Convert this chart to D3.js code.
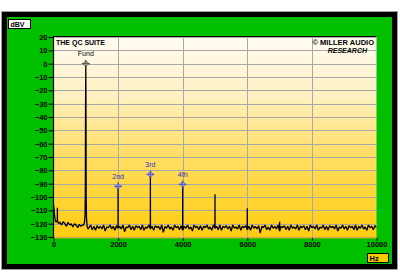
<!DOCTYPE html>
<html>
<head>
<meta charset="utf-8">
<script src="https://cdn.jsdelivr.net/npm/d3@7"></script>
<style>
  body { margin: 0; background: #ffffff; }
  svg { display: block; }
  text { font-family: "Liberation Sans", Arial, sans-serif; }
</style>
</head>
<body>
<svg id="chart" width="400" height="272"></svg>
<script>
//Data

//low end of spectrum, 0-180 Hz: [Hz, dBV]
var lowEnd = [[0,-106],[15,-109],[30,-113],[45,-116],[60,-118],[80,-119],[100,-118],
  [117,-118],[120,-108],[123,-118],[140,-119],[160,-120],[180,-119]];

//floor 200-900 Hz, 50 Hz steps
var floorLow = [-119,-121,-118.5,-120,-122,-119,-121,-120,-122.5,-120,-121,-123,-120.5,-122,-121];

//skirt around the fundamental
var fundZone = [[930,-121],[960,-119],[975,-114],[985,-100],[992,-35],[1000,0],
  [1006,-38],[1012,-100],[1022,-116],[1040,-122],[1070,-124]];

//floor 1100-10000 Hz, 50 Hz steps
var floorHigh = [
  -123,-121,-124.5,-122,-125,-121.5,-123.5,-122,-124,-121,-125.5,-122.5,-123,-121,-124,-122,-125,-121.5,-123.5,-122,
  -124,-121,-126,-122.5,-123,-121,-124.5,-122,-125,-121.5,-123,-122,-124.5,-121,-125,-122.5,-123.5,-121,-124,-122,
  -125,-121.5,-123,-122,-124.5,-121,-126.5,-122,-123.5,-121,-124,-122.5,-125,-121,-123,-122,-124.5,-121.5,-125,-122,
  -123.5,-121,-124,-122.5,-125.5,-121,-123,-122,-124.5,-121.5,-125,-122,-123,-121,-124,-122.5,-125,-121,-123.5,-122,
  -124.5,-121,-125,-122,-123,-121.5,-124,-122,-125.5,-121,-123.5,-122.5,-124,-121,-125,-122,-123,-121.5,-124.5,-122,
  -125,-121,-123.5,-122,-124,-121.5,-127,-122,-123,-121,-124.5,-122.5,-125,-121,-123.5,-122,-124,-121,-125.5,-122,
  -123,-121.5,-124.5,-122,-125,-121,-123.5,-122.5,-124,-121,-125,-122,-123,-121.5,-124.5,-122,-125.5,-121,-123,-122,
  -124,-121,-125,-122.5,-123.5,-121,-124.5,-122,-125,-121.5,-123,-122,-124,-121,-125.5,-122.5,-123.5,-121,-124,-122,
  -125,-121.5,-123,-122,-124.5,-121,-125,-122,-123.5,-121,-124,-122.5,-125,-121,-123,-122,-124.5,-121.5,-123];

//harmonic spikes: [Hz, dBV]
var spikes = [[2000,-92],[3000,-83],[4000,-90.5],[5000,-98],[6000,-108.5],[7000,-118.5]];

//markers
var markerLabels = ["Fund","2nd","3rd","4th"];
var markerFreqs = [1000,2000,3000,4000];
var markerLevels = [0,-92,-83,-90.5];

//axis ticks
var xTicks = [0,2000,4000,6000,8000,10000];
var yTicks = [20,10,0,-10,-20,-30,-40,-50,-60,-70,-80,-90,-100,-110,-120,-130];

//Layout
var plotLeft = 53.5, plotRight = 376.5, plotTop = 37, plotBottom = 237;

var svg = d3.select("#chart");

var x = d3.scaleLinear().domain([0,10000]).range([plotLeft, plotRight]);
var y = d3.scaleLinear().domain([-130,20]).range([plotBottom, plotTop]);

//build spectrum series; spikes sit on the floor value at their own bin
var spectrum = [];
lowEnd.forEach(function(p){ spectrum.push(p); });
floorLow.forEach(function(v,i){ spectrum.push([200 + i*50, v]); });
fundZone.forEach(function(p){ spectrum.push(p); });
var spikeMap = new Map(spikes);
floorHigh.forEach(function(v,i){
  var f = 1100 + i*50;
  if (spikeMap.has(f)){
    spectrum.push([f-2, v]);
    spectrum.push([f, spikeMap.get(f)]);
    spectrum.push([f+2, v]);
  } else {
    spectrum.push([f, v]);
  }
});
spectrum.sort(function(a,b){ return a[0]-b[0]; });

//window frame
svg.append("rect").attr("x",1.5).attr("y",11.5).attr("width",396).attr("height",258)
  .attr("fill","#000").attr("stroke","#a0a0a0");
svg.append("rect").attr("x",7).attr("y",17).attr("width",385).attr("height",247)
  .attr("fill","#00c000");

//gradient for plot background
var defs = svg.append("defs");
var grad = defs.append("linearGradient").attr("id","bg").attr("x1",0).attr("y1",0).attr("x2",0).attr("y2",1);
[[0,"#fffcf4"],[0.3,"#fff0c0"],[0.55,"#ffe070"],[0.8,"#ffd535"],[1,"#ffcc10"]].forEach(function(s){
  grad.append("stop").attr("offset",s[0]).attr("stop-color",s[1]);
});
defs.append("clipPath").attr("id","clip").append("rect")
  .attr("x",plotLeft).attr("y",36).attr("width",plotRight-plotLeft).attr("height",plotBottom-36+1);

svg.append("rect").attr("x",plotLeft).attr("y",36).attr("width",plotRight-plotLeft).attr("height",plotBottom-36+1)
  .attr("fill","url(#bg)");

//grid
var grid = svg.append("g").attr("stroke","#a8a8a8").attr("stroke-width",1);
grid.selectAll(".hg").data(yTicks).enter().append("line")
  .attr("x1",plotLeft).attr("x2",plotRight)
  .attr("y1",function(d){ return Math.round(y(d))+0.5; })
  .attr("y2",function(d){ return Math.round(y(d))+0.5; });
grid.selectAll(".vg").data(xTicks.slice(1,5)).enter().append("line")
  .attr("y1",36).attr("y2",plotBottom+1)
  .attr("x1",function(d){ return Math.round(x(d))+0.5; })
  .attr("x2",function(d){ return Math.round(x(d))+0.5; });

//plot border: black left/top, dark yellow bottom
svg.append("line").attr("x1",plotRight).attr("x2",plotLeft).attr("y1",36.5).attr("y2",36.5).attr("stroke","#000");
svg.append("line").attr("x1",plotLeft).attr("x2",plotLeft).attr("y1",36).attr("y2",plotBottom+1).attr("stroke","#000").attr("stroke-width",1.2);
svg.append("line").attr("x1",plotLeft).attr("x2",plotRight).attr("y1",plotBottom+1).attr("y2",plotBottom+1).attr("stroke","#e0a800");

//axes
var yAxis = d3.axisLeft(y).tickValues(yTicks).tickSize(5).tickPadding(1);
var gy = svg.append("g").attr("transform","translate(" + plotLeft + ",0)").call(yAxis);
gy.select(".domain").remove();
gy.selectAll("text").attr("font-size","7.5px").attr("font-weight","bold").attr("fill","#000");
gy.selectAll("line").attr("stroke","#000");

var xAxis = d3.axisBottom(x).tickValues(xTicks).tickSize(3).tickPadding(1).tickFormat(d3.format("d"));
var gx = svg.append("g").attr("transform","translate(0," + (plotBottom+1) + ")").call(xAxis);
gx.select(".domain").remove();
gx.selectAll("text").attr("font-size","7.5px").attr("font-weight","bold").attr("fill","#000");
gx.selectAll("line").attr("stroke","#000");

//spectrum line
var line = d3.line().x(function(d){ return x(d[0]); }).y(function(d){ return y(d[1]); });
svg.append("path").datum(spectrum).attr("clip-path","url(#clip)")
  .attr("d",line).attr("fill","none").attr("stroke","#000").attr("stroke-width",1.3)
  .attr("stroke-linejoin","bevel");

//markers
var markers = svg.selectAll(".mk").data(markerFreqs).enter().append("g")
  .attr("transform",function(d,i){ return "translate(" + x(d) + "," + y(markerLevels[i]) + ")"; });
markers.append("path").attr("d","M0,-3L3,0L0,3L-3,0Z")
  .attr("fill",function(d,i){ return i==0 ? "#e8e0d0" : "#b8b8f0"; })
  .attr("stroke",function(d,i){ return i==0 ? "#404040" : "#5050c8"; }).attr("stroke-width",0.8);
markers.append("path").attr("d","M-4,0H4M0,-4V4")
  .attr("stroke",function(d,i){ return i==0 ? "#303030" : "#4040b8"; }).attr("stroke-width",0.8);
markers.append("text").attr("y",-7.5).attr("text-anchor","middle")
  .attr("font-size","7px")
  .attr("fill",function(d,i){ return i==0 ? "#000" : "#3030c0"; })
  .text(function(d,i){ return markerLabels[i]; });

//titles
svg.append("text").attr("x",56).attr("y",44.5).attr("font-size","7px").attr("font-weight","bold")
  .text("THE QC SUITE");
svg.append("text").attr("x",374).attr("y",44.5).attr("text-anchor","end").attr("font-size","7.5px").attr("font-weight","bold")
  .text("© MILLER AUDIO");
svg.append("text").attr("x",367).attr("y",52.5).attr("text-anchor","end").attr("font-size","7px").attr("font-weight","bold")
  .attr("font-style","italic").text("RESEARCH");

//unit boxes
svg.append("rect").attr("x",8.5).attr("y",19.5).attr("width",22).attr("height",9).attr("fill","#fff").attr("stroke","#000");
svg.append("text").attr("x",10.5).attr("y",27).attr("font-size","7px").attr("font-weight","bold").text("dBV");
svg.append("rect").attr("x",367.5).attr("y",253.5).attr("width",21).attr("height",9).attr("fill","#f8c800").attr("stroke","#000");
svg.append("text").attr("x",369.5).attr("y",261).attr("font-size","7.5px").attr("font-weight","bold").text("Hz");
</script>
</body>
</html>
